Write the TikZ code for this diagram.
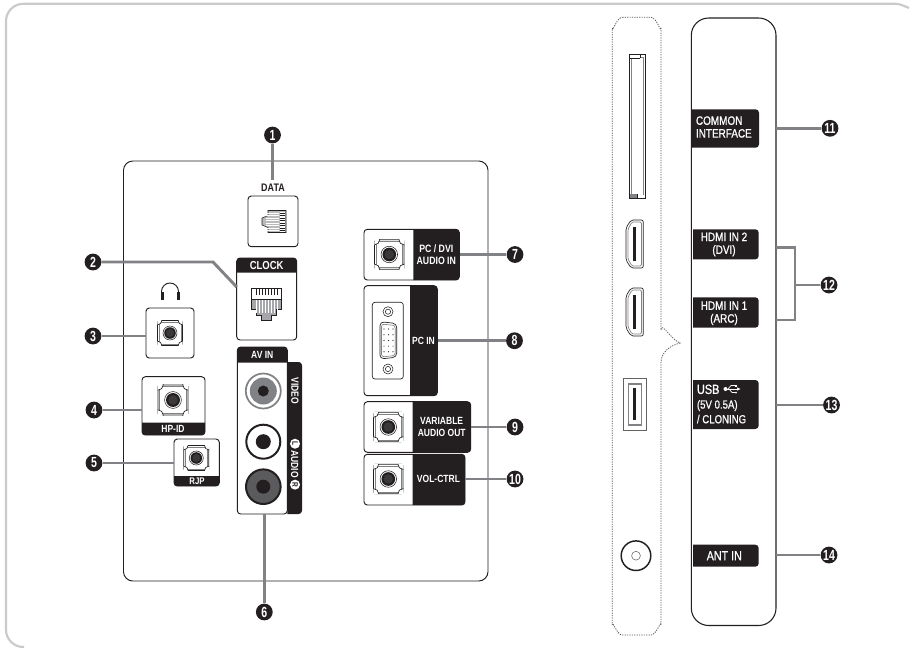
\documentclass[tikz,border=0pt]{standalone}
\usepackage{fontspec}
\setmainfont{Liberation Sans}
\newfontfamily\labf[FakeStretch=0.82]{Liberation Sans}
\newfontfamily\labm[FakeStretch=0.82,FakeBold=0.9]{Liberation Sans}
\newfontfamily\badgef[FakeStretch=0.72]{Liberation Sans}
\usetikzlibrary{calc,arrows.meta}
\definecolor{ink}{HTML}{231F20}
\definecolor{midg}{HTML}{808285}
\definecolor{frameg}{HTML}{C8CACC}
\tikzset{
  x=0.75pt,y=-0.75pt,
  badge/.style={circle,fill=ink,text=white,inner sep=0pt,minimum size=12.6pt,font=\badgef\bfseries\fontsize{11}{11}\selectfont},
  conn/.style={draw=midg,line width=2.2pt},
  whitebox/.style={draw=ink,line width=0.7pt,fill=white,rounded corners=2.5pt,inner sep=0pt},
  blk/.style={fill=ink},
  lbl/.style={text=white,inner sep=0pt,font=\labf\bfseries\fontsize{7.8}{9}\selectfont,align=center},
  rlbl/.style={text=white,inner sep=0pt,font=\labm\fontsize{9.1}{9.6}\selectfont,align=center},
  pics/jack/.style={code={
    \draw[ink,line width=0.5pt,fill=white,rounded corners=1pt] (-12.5,-12.5) rectangle (12.5,12.5);
    \draw[midg,line width=0.6pt] (-11,-11) rectangle (11,11);
    \begin{scope}
      \clip (-12.7,-12.7) rectangle (12.7,12.7);
      \foreach \sx in {-1,1}\foreach \sy in {-1,1}{
        \draw[ink,line width=0.5pt,fill=white] (\sx*12.7,\sy*12.7) circle[radius=4.6];
      }
    \end{scope}
    \draw[ink,line width=0.4pt,fill=white] (0,0) circle[radius=7];
    \fill[ink] (0,0) circle[radius=5.8];
    \fill[midg!25!ink] (0,0) circle[radius=4];
  }},
}
\newcommand\pxbox[5]{\node[whitebox,minimum width={(#4-#2)*0.75pt},minimum height={(#5-#3)*0.75pt}] (#1) at ({(#2+#4)/2},{(#3+#5)/2}) {};}
\begin{document}
\begin{tikzpicture}
\useasboundingbox (0,0) rectangle (911,647);
\fill[white] (0,0) rectangle (911,647);
% outer frame (open: only top and left edges show)
\draw[frameg,line width=1.6pt,rounded corners=13pt] (24,647) -- (6,647) -- (6,3.8) -- (895,3.8);
\draw[frameg,line width=1.6pt] (895,3.8) to[out=0,in=160] (909,8);
% main panel
\node[draw=ink,line width=0.7pt,rounded corners=7pt,inner sep=0pt,minimum width={(488-123.5)*0.75pt},minimum height={(581-161)*0.75pt}] (panel) at ({(123.5+488)/2},{(161+581)/2}) {};
% badges
\node[badge] (b1) at (272.5,135) {1};
\node[badge] (b2) at (93,262) {2};
\node[badge] (b3) at (93,336) {3};
\node[badge] (b4) at (94,410) {4};
\node[badge] (b5) at (94,463) {5};
\node[badge] (b6) at (264.3,612) {6};
\node[badge] (b7) at (515,254.5) {7};
\node[badge] (b8) at (514.5,340.7) {8};
\node[badge] (b9) at (515,427) {9};
\node[badge] (b10) at (515,479) {10};
\node[badge] (b11) at (830,128.3) {11};
\node[badge] (b12) at (829,285) {12};
\node[badge] (b13) at (831.5,405) {13};
\node[badge] (b14) at (829,555) {14};
% DATA
\node[text=ink,inner sep=0pt,font=\labf\bfseries\fontsize{8.2}{9}\selectfont] (tdata) at (273,187.7) {DATA};
\pxbox{data}{248}{196}{298}{246.7}
% small RJ45 icon (side view)
\begin{scope}[shift={(274,221.5)}]
  \draw[ink,line width=0.4pt,fill=midg!55] (-6,-11) -- (12,-11) -- (12,11) -- (-6,11) -- (-6,6) -- (-12,3.5) -- (-12,-3.5) -- (-6,-6) -- cycle;
  \foreach \yy in {-8.5,-6,-3.5,-1,1.5,4,6.5,9}{\draw[white,line width=0.5pt] (-8,\yy) -- (5,\yy);}
  \fill[white] (6,-10) rectangle (11,10);
  \foreach \yy in {-8.5,-6,-3.5,-1,1.5,4,6.5,9}{\draw[ink,line width=0.3pt] (6,\yy) -- (11,\yy);}
\end{scope}
% CLOCK
\pxbox{clock}{236.7}{258}{296.7}{340}
\fill[blk,rounded corners=2.5pt] (236.7,272.7) -- (236.7,258) -- (296.7,258) [sharp corners] -- (296.7,272.7) -- cycle;
\node[lbl,font=\labf\bfseries\fontsize{8.7}{9}\selectfont] (tclock) at (266.7,265.5) {CLOCK};
\begin{scope}[shift={(266.7,304)}]
  \draw[ink,line width=0.4pt,fill=midg!70] (-15,-8) -- (15,-8) -- (15,5) -- (10,5) -- (10,11) -- (5,11) -- (5,16) -- (-5,16) -- (-5,11) -- (-10,11) -- (-10,5) -- (-15,5) -- cycle;
  \draw[ink,line width=0.4pt,fill=white] (-15,-16) rectangle (15,-8);
  \foreach \xx in {-10.5,-7.5,-4.5,-1.5,1.5,4.5,7.5,10.5}{
    \draw[ink,line width=0.6pt] (\xx,-15) -- (\xx,-9);
    \draw[white,line width=0.5pt] (\xx,-4) -- (\xx,9);
  }
  \fill[white] (-15,-8) -- (15,-8) -- (15,-5) -- (-15,-5) -- cycle;
  \draw[ink,line width=0.4pt] (-15,-8) -- (-15,-5) -- (15,-5) -- (15,-8);
\end{scope}
% headphones icon
\node[inner sep=0pt,minimum width=15pt,minimum height=13pt] (phones) at (170,291.5) {};
\draw[ink,line width=0.7pt] (161.5,296) -- (161.5,291.5) arc[start angle=180,end angle=360,radius=8.5] -- (178.5,296);
\fill[ink] (160.5,292) rectangle (163.5,300);
\fill[ink] (176.5,292) rectangle (179.5,300);
% box 3
\pxbox{hp}{146}{308}{194}{358}
\pic at (170,333) {jack};
% box 4
\pxbox{hpid}{142}{376.7}{205}{435}
\fill[blk,rounded corners=2.5pt] (142,422.7) -- (142,435) -- (205,435) [sharp corners] -- (205,422.7) -- cycle;
\pic[scale=1.2] at (173,400) {jack};
\node[lbl] (thpid) at (173,428.8) {HP-ID};
% box 5
\pxbox{rjp}{174}{439}{219.3}{486}
\fill[blk,rounded corners=2.5pt] (174,476) -- (174,486) -- (219.3,486) [sharp corners] -- (219.3,476) -- cycle;
\pic at (196.3,458) {jack};
\node[lbl,font=\labf\bfseries\fontsize{7.2}{8}\selectfont] (trjp) at (197,481) {RJP};
% AV IN
\pxbox{av}{237.3}{347}{287.3}{514}
\fill[blk,rounded corners=2.5pt] (237.3,362.7) -- (237.3,347) -- (287.3,347) [sharp corners] -- (287.3,362.7) -- cycle;
\fill[blk,rounded corners=2.5pt] (287.3,362) -- (302,362) -- (302,514) [sharp corners] -- (287.3,514) -- cycle;
\node[lbl] (tav) at (262.3,354.8) {AV IN};
\node[lbl,rotate=-90] (tvid) at (295,391) {VIDEO};
\node[lbl,rotate=-90] (taud) at (295,464.2) {\tikz[baseline=-0.7ex]\node[circle,fill=white,inner sep=0pt,minimum size=7.5pt,text=ink,font=\labf\bfseries\fontsize{6}{6}\selectfont]{L};\,AUDIO\,\tikz[baseline=-0.7ex]\node[circle,fill=white,inner sep=0pt,minimum size=7.5pt,text=ink,font=\labf\bfseries\fontsize{6}{6}\selectfont]{R};};
% RCA jacks
\draw[midg,line width=1.3pt,fill=white] (263.3,391) circle[radius=17.5];
\fill[midg] (263.3,391) circle[radius=13.5];
\fill[ink] (263.3,391) circle[radius=5.5];
\draw[ink,line width=1.5pt,fill=white] (263.3,441.7) circle[radius=17];
\fill[ink] (263.3,441.7) circle[radius=7.5];
\draw[ink,line width=1.5pt,fill=midg!60!ink] (263.3,486.7) circle[radius=17.3];
\fill[ink] (263.3,486.7) circle[radius=7];
% box 7
\pxbox{pcaud}{364}{229.3}{459.3}{280}
\fill[blk,rounded corners=2.5pt] (413.3,229.3) -- (459.3,229.3) -- (459.3,280) [sharp corners] -- (413.3,280) -- cycle;
\pic[scale=1.18] at (389.3,254.5) {jack};
\node[lbl,font=\labf\bfseries\fontsize{8}{9.3}\selectfont] (t7) at (436.3,254.5) {PC / DVI\\AUDIO IN};
% box 8
\pxbox{pcin}{364}{285.7}{437.3}{395.7}
\fill[blk,rounded corners=2.5pt] (410,285.7) -- (437.3,285.7) -- (437.3,395.7) [sharp corners] -- (410,395.7) -- cycle;
\node[lbl] (t8) at (423.5,340.7) {PC IN};
\draw[ink,line width=0.5pt,rounded corners=2pt] (372.3,302.3) rectangle (403.3,379);
\draw[ink,line width=0.5pt,fill=white,rounded corners=3pt] (380,321.7) -- (396.7,323.5) -- (396.7,357.2) -- (380,359) -- cycle;
\draw[midg,line width=0.5pt,rounded corners=2pt] (381.5,324) -- (395.2,325.5) -- (395.2,355.5) -- (381.5,357) -- cycle;
\foreach \xx in {384,388.5,393}{
  \foreach \i in {1,...,5}{\fill[ink] (\xx,{329+(\i-1)*5.7}) circle[radius=0.6];}
}
\foreach \yy in {311.7,369}{
  \draw[ink,line width=0.4pt] (388,\yy) circle[radius=5];
  \draw[ink,line width=0.4pt] (388,\yy) circle[radius=2.6];
}
% box 9
\pxbox{varaud}{364}{401.7}{470.7}{452.3}
\fill[blk,rounded corners=2.5pt] (412.7,401.7) -- (470.7,401.7) -- (470.7,452.3) [sharp corners] -- (412.7,452.3) -- cycle;
\pic[scale=1.18] at (388.3,427) {jack};
\node[lbl] (t9) at (441.7,427.3) {VARIABLE\\AUDIO OUT};
% box 10
\pxbox{vol}{364}{454.3}{465}{505}
\fill[blk,rounded corners=2.5pt] (412.7,454.3) -- (465,454.3) -- (465,505) [sharp corners] -- (412.7,505) -- cycle;
\pic[scale=1.18] at (388.3,479) {jack};
\node[lbl] (t10) at (438.5,479.3) {VOL-CTRL};
% connectors
\draw[conn] (b1) -- ([yshift=3pt]b1 |- tdata.north);
\draw[conn] (b2) -- (213,262) -- (236.7,287);
\draw[conn] (b3) -- (hp.west |- b3);
\draw[conn] (b4) -- (hpid.west |- b4);
\draw[conn] (b5) -- (rjp.west |- b5);
\draw[conn] (b6) -- (b6 |- av.south);
\draw[conn] (b7) -- (pcaud.east |- b7);
\draw[conn] (b8) -- (pcin.east |- b8);
\draw[conn] (b9) -- (varaud.east |- b9);
\draw[conn] (b10) -- (vol.east |- b10);
% side view dotted
\draw[ink!75,line width=0.6pt,dash pattern=on 0.9pt off 0.9pt] (622.3,17.3) -- (651,17.3) to[out=0,in=-90] (661,28) -- (661,330) to[out=90,in=160] (680,343) to[out=-165,in=90] (661,363) -- (661,625) to[out=90,in=0] (651,635) -- (622.3,635) to[out=180,in=90] (612.3,625) -- (612.3,28) to[out=-90,in=180] (622.3,17.3);
% CI slot
\draw[ink,line width=0.5pt] (629,54) rectangle (645.7,198);
\draw[midg,line width=0.5pt] (631,57) rectangle (643.7,195);
\fill[white] (630,54.5) rectangle (640,58);
\draw[ink,line width=0.4pt] (630,58) -- (640,58) (640,54) -- (640,58);
\fill[midg] (629.5,194) rectangle (637,197.5);
\fill[white] (637,194.5) rectangle (645,198);
\draw[ink,line width=0.4pt] (637,194) -- (637,198) -- (645.5,198);
% HDMI
\foreach \yt in {220,288}{
  \draw[ink,line width=0.5pt,rounded corners=1.5pt] (631,\yt) -- (643.3,\yt) -- (643.3,\yt+48) -- (631,\yt+48) -- (626,\yt+40) -- (626,\yt+8) -- cycle;
  \draw[midg,line width=0.5pt,rounded corners=1pt] (632,\yt+2) -- (641.5,\yt+2) -- (641.5,\yt+46) -- (632,\yt+46) -- (628,\yt+39) -- (628,\yt+9) -- cycle;
  \fill[ink] (633.3,\yt+6.7) rectangle (636,\yt+40.7);
}
% USB
\draw[ink!70,line width=0.6pt] (623.3,378.3) rectangle (646,430.7);
\draw[midg,line width=0.9pt] (628.3,384) rectangle (641.7,425);
\fill[ink] (632.7,388.3) rectangle (636,420);
% ANT
\draw[ink,line width=1.1pt] (636,555.7) circle[radius=14.8];
\draw[ink!70,line width=0.4pt] (636,555.7) circle[radius=4.4];
% right panel
\draw[ink,line width=0.8pt,rounded corners=13pt] (691.3,18) rectangle (776,625.5);
% black labels
\fill[blk,rounded corners=2.5pt] (692,109.3) -- (759,109.3) -- (759,147.7) [sharp corners] -- (692,147.7) -- cycle;
\node[rlbl,align=left,anchor=west] (t11) at (695.7,127) {COMMON\\INTERFACE};
\fill[blk,rounded corners=2.5pt] (693,229.3) -- (758.7,229.3) -- (758.7,259.3) [sharp corners] -- (693,259.3) -- cycle;
\node[rlbl] (t12a) at (724,244.5) {HDMI IN 2\\(DVI)};
\fill[blk,rounded corners=2.5pt] (693,297.3) -- (758.7,297.3) -- (758.7,327.7) [sharp corners] -- (693,327.7) -- cycle;
\node[rlbl] (t12b) at (724,313.3) {HDMI IN 1\\(ARC)};
\fill[blk,rounded corners=2.5pt] (693,380) -- (758.7,380) -- (758.7,429) [sharp corners] -- (693,429) -- cycle;
\node[rlbl,align=left,anchor=west,font=\labm\fontsize{8.8}{11}\selectfont] (t13) at (696.7,404) {{\fontsize{10}{11}\selectfont USB}\\(5V 0.5A)\\/ CLONING};
% USB trident
\draw[white,line width=0.6pt,-{Latex[length=3pt,width=2.6pt]}] (725,389) -- (741,389);
\fill[white] (725.5,389) circle[radius=2];
\draw[white,line width=0.5pt] (728,389) -- (731,385.5) -- (735,385.5) (729,389) -- (732,392.5) -- (735,392.5);
\fill[white] (735,384.5) rectangle (737,386.5);
\fill[white] (736,392.5) circle[radius=1];
\fill[blk,rounded corners=2.5pt] (693,544.7) -- (758.7,544.7) -- (758.7,566.7) [sharp corners] -- (693,566.7) -- cycle;
\node[rlbl,font=\labm\fontsize{9.8}{10}\selectfont] (t14) at (724.3,555.7) {ANT IN};
% right connectors
\coordinate (edge) at (776,0);
\draw[conn] (b11) -- (edge |- b11);
\draw[conn] (edge |- 0,247.3) -- (795,247.3) -- (795,320) -- (edge |- 0,320);
\draw[conn] (b12) -- (795,285);
\draw[conn] (b13) -- (edge |- b13);
\draw[conn] (b14) -- (edge |- b14);
\end{tikzpicture}
\end{document}
